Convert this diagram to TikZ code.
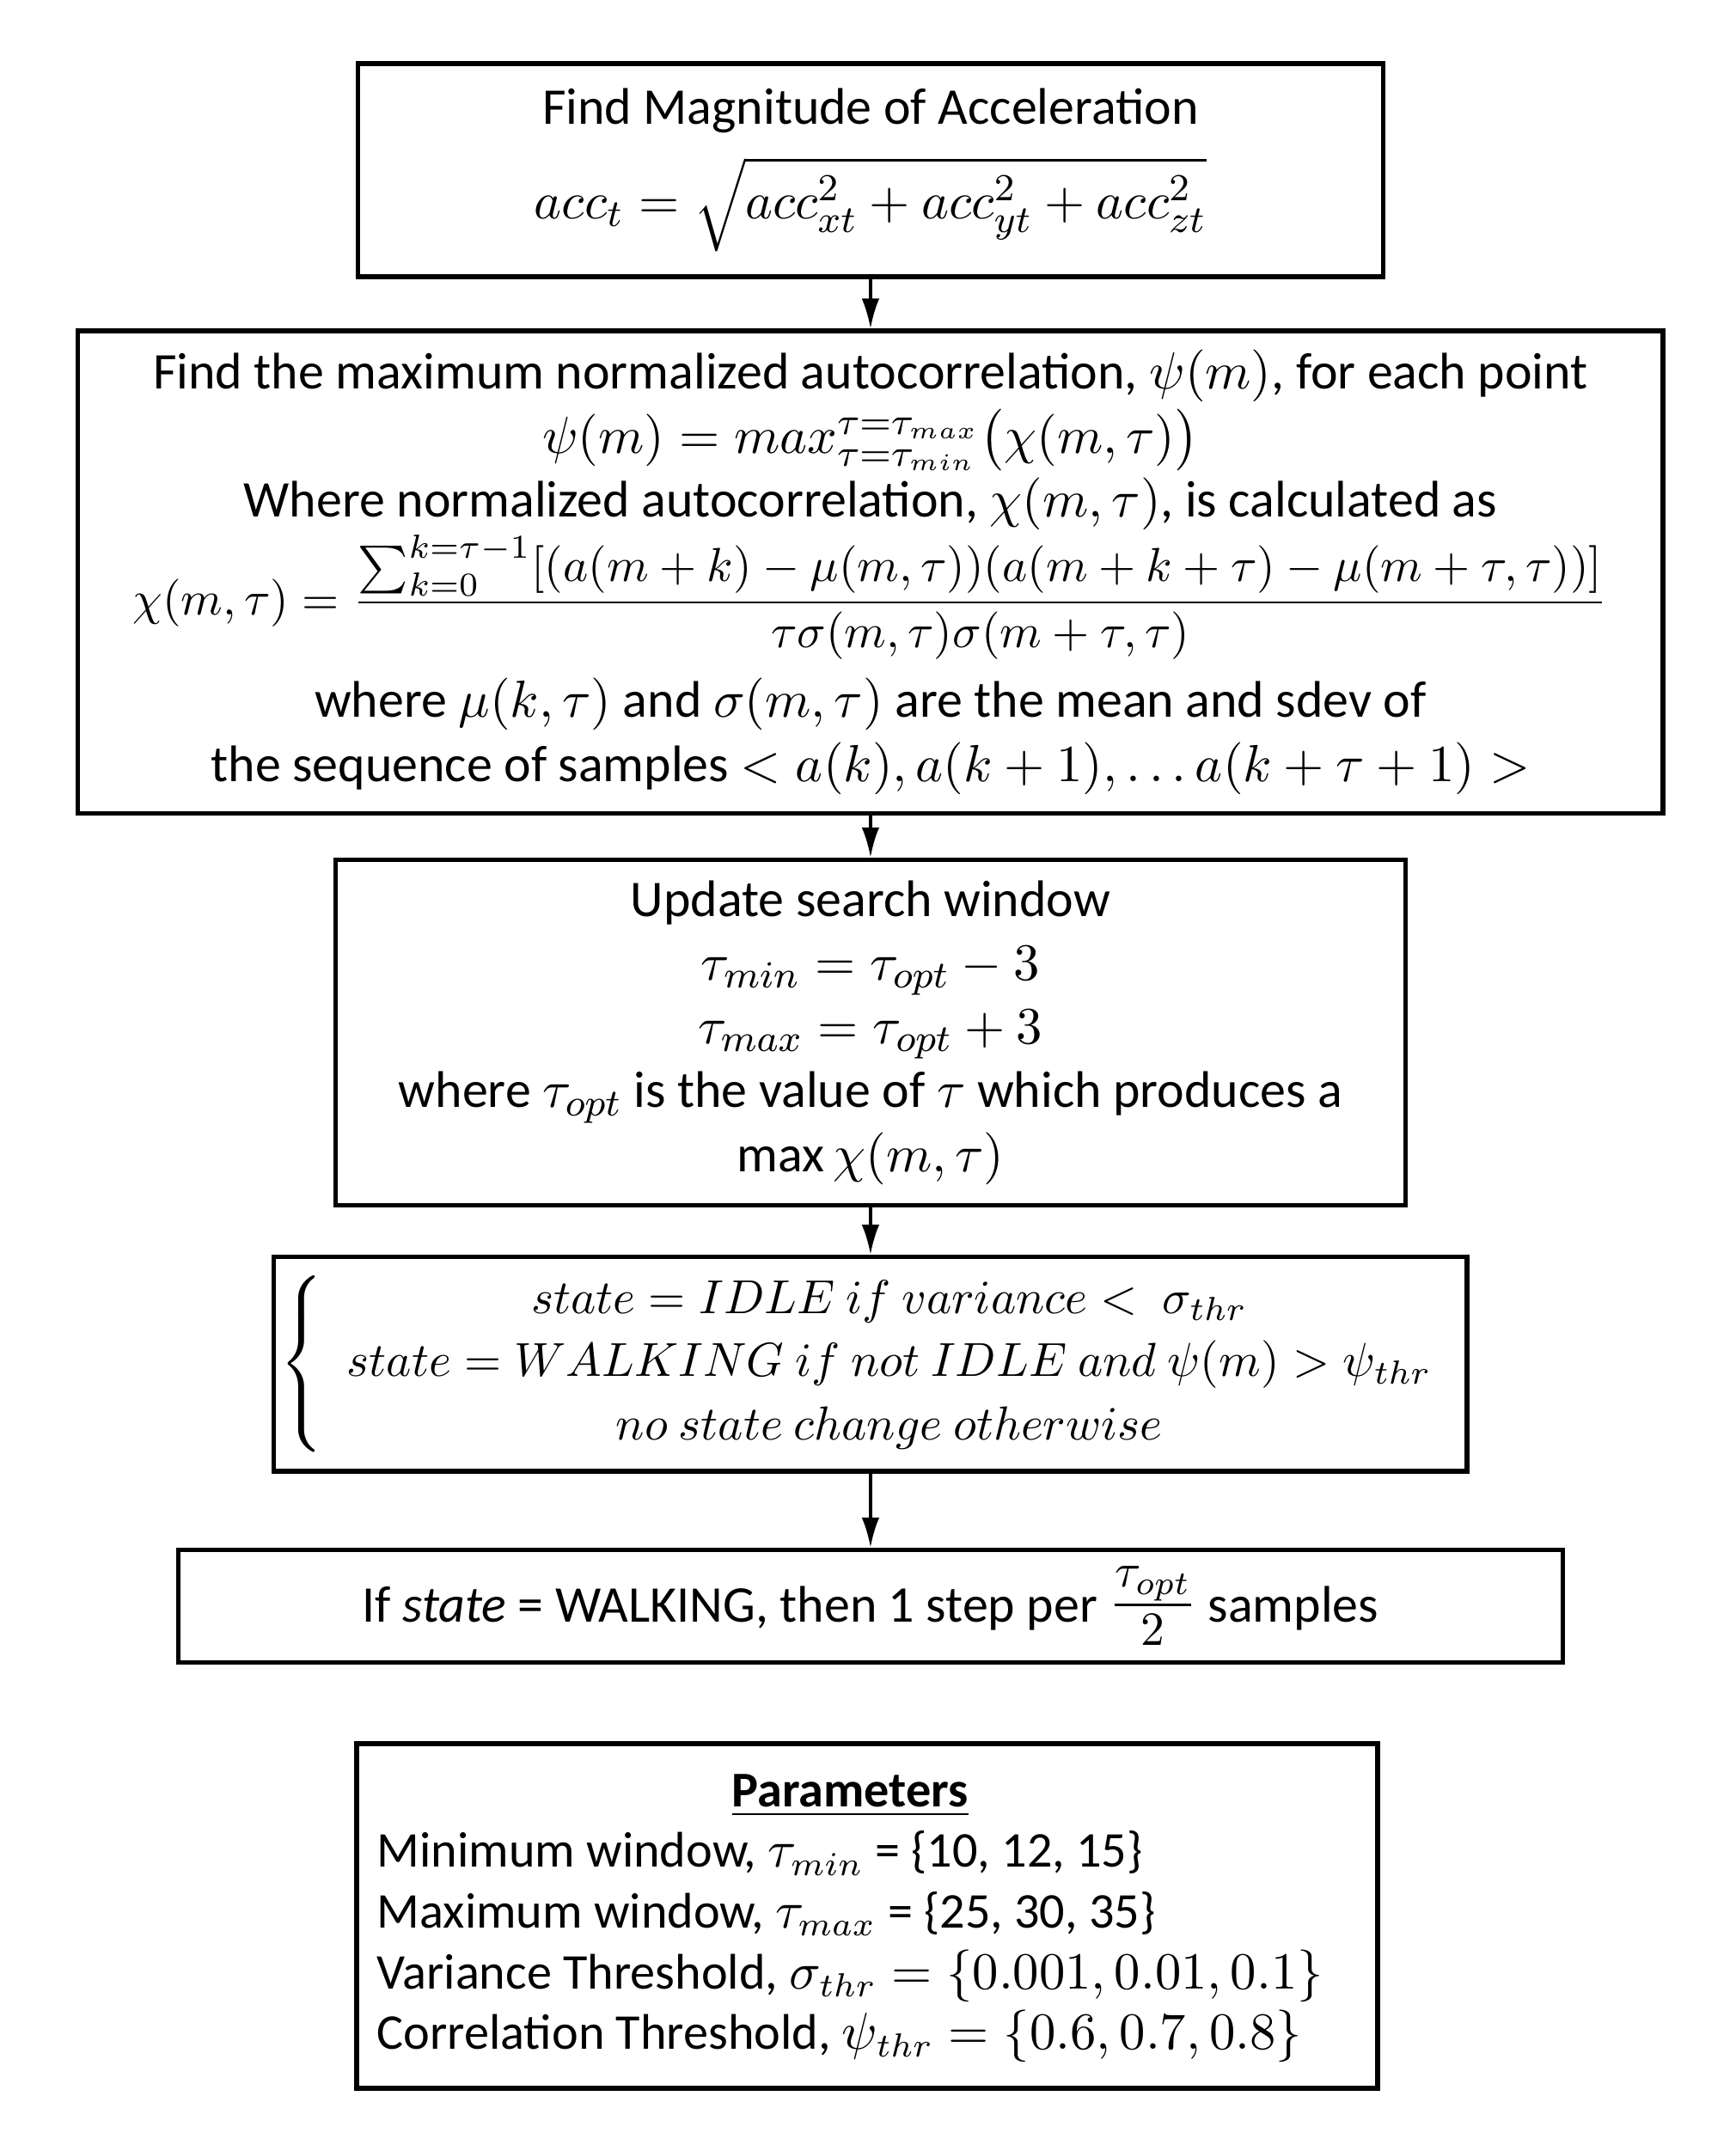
\documentclass[tikz,border=0pt]{standalone}
\usepackage{fontspec}
\setmainfont{Carlito}
\usepackage{amsmath}
\usepackage{amssymb}
\usetikzlibrary{positioning,arrows.meta}

\tikzset{
  flowbox/.style={draw=black, line width=1pt, align=center, inner sep=2pt,
    font=\fontsize{10.8}{13.4}\selectfont},
  flowarrow/.style={-{Latex[length=2.2mm,width=1.3mm]}, line width=0.6pt},
}

\begin{document}
\begin{tikzpicture}
\useasboundingbox (0,0) rectangle (12.8,-15.82);

\node[flowbox, minimum width=7.56cm, minimum height=1.57cm] (magnitude) at (6.42,-1.255)
  {Find Magnitude of Acceleration\\[4pt]
   $acc_t=\sqrt{acc_{xt}^2+acc_{yt}^2+acc_{zt}^2}$};

\node[flowbox, minimum width=11.69cm, minimum height=3.56cm] (autocorr) at (6.42,-4.22)
  {Find the maximum normalized autocorrelation, $\psi(m)$, for each point\\
   $\psi(m)=max_{\tau=\tau_{min}}^{\tau=\tau_{max}}\bigl(\chi(m,\tau)\bigr)$\\
   Where normalized autocorrelation, $\chi(m,\tau)$, is calculated as\\
   {\fontsize{10}{13}\selectfont
   $\chi(m,\tau)=\dfrac{\sum\nolimits_{k=0}^{k=\tau-1}[(a(m+k)-\mu(m,\tau))(a(m+k+\tau)-\mu(m+\tau,\tau))]}{\tau\sigma(m,\tau)\sigma(m+\tau,\tau)}$}\\[3pt]
   where $\mu(k,\tau)$ and $\sigma(m,\tau)$ are the mean and sdev of\\
   the sequence of samples $<a(k),a(k+1),\ldots a(k+\tau+1)>$};

\node[flowbox, minimum width=7.89cm, minimum height=2.55cm] (window) at (6.42,-7.615)
  {Update search window\\
   $\tau_{min}=\tau_{opt}-3$\\
   $\tau_{max}=\tau_{opt}+3$\\
   where $\tau_{opt}$ is the value of $\tau$ which produces a\\
   max\,$\chi(m,\tau)$};

\node[flowbox, minimum width=8.80cm, minimum height=1.58cm, inner sep=0pt,
      font=\fontsize{10.3}{13.2}\selectfont] (statebox) at (6.42,-10.06)
  {$\left\{\begin{array}{c}
     state=IDLE\ if\ variance<\ \sigma_{thr}\\
     state=WALKING\ if\ not\ IDLE\ and\ \psi(m)>\psi_{thr}\\
     no\ state\ change\ otherwise
   \end{array}\right.$};

\node[flowbox, minimum width=10.21cm, minimum height=0.83cm] (stepcount) at (6.42,-11.845)
  {If \textit{state} = WALKING, then 1 step per
   {\fontsize{14}{16}\selectfont$\frac{\tau_{opt}}{2}$} samples};

\node[flowbox, minimum width=7.53cm, minimum height=2.54cm,
      font=\fontsize{10.5}{13.4}\selectfont] (params) at (6.395,-14.13)
  {\renewcommand{\arraystretch}{0.95}%
   \begin{tabular}{@{}l@{\hspace{0.25cm}}}
   \multicolumn{1}{@{}c@{\hspace{0.25cm}}}{\underline{\textbf{Parameters}}}\\
   Minimum window, $\tau_{min}$ = \{10, 12, 15\}\\
   Maximum window, $\tau_{max}$ = \{25, 30, 35\}\\
   Variance Threshold, $\sigma_{thr}=\{0.001,0.01,0.1\}$\\
   Correlation Threshold, $\psi_{thr}=\{0.6,0.7,0.8\}$
   \end{tabular}};

\draw[flowarrow] (magnitude) -- (autocorr);
\draw[flowarrow] (autocorr) -- (window);
\draw[flowarrow] (window) -- (statebox);
\draw[flowarrow] (statebox) -- (stepcount);
\end{tikzpicture}
\end{document}
